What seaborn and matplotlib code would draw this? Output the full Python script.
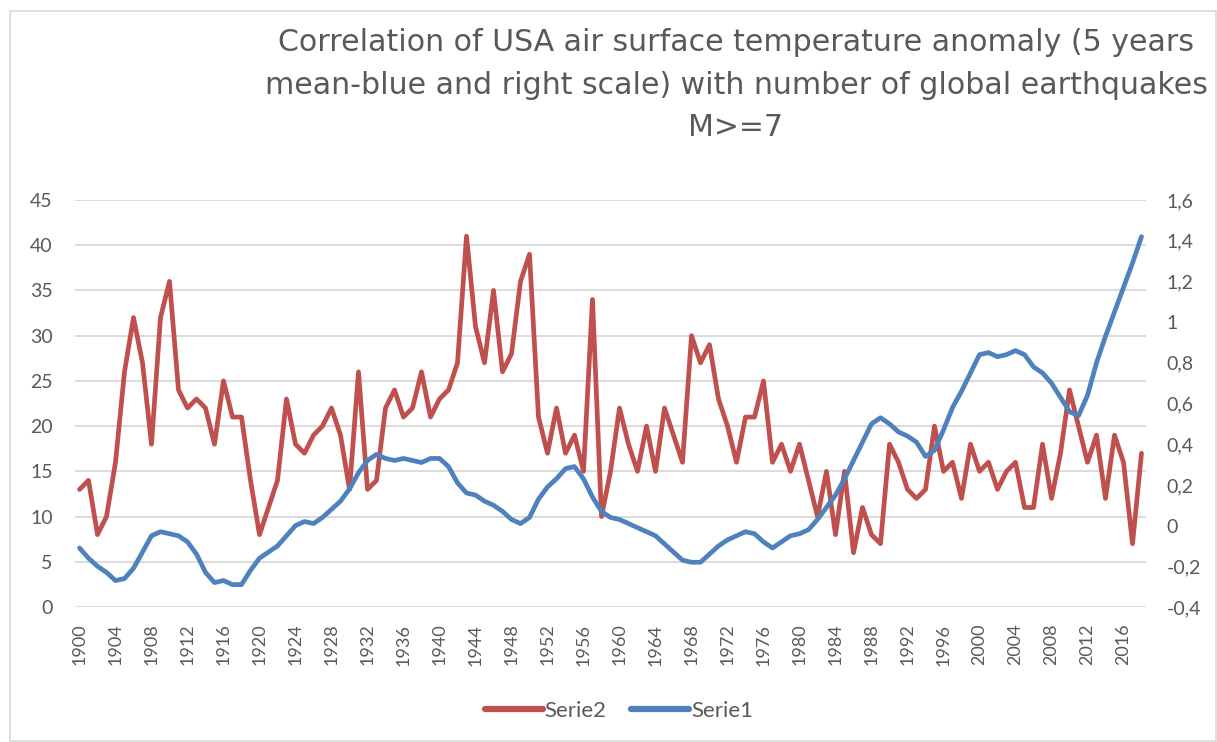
import matplotlib
matplotlib.use("Agg")
import matplotlib.pyplot as plt
import seaborn as sns
import pandas as pd
from matplotlib.patches import Rectangle
from matplotlib.lines import Line2D
from matplotlib.ticker import FuncFormatter

# ---------------- data ----------------
years = list(range(1900, 2019))

serie2 = [13, 14, 8, 10, 16, 26, 32, 27, 18, 32,
          36, 24, 22, 23, 22, 18, 25, 21, 21, 14,
          8, 11, 14, 23, 18, 17, 19, 20, 22, 19,
          13, 26, 13, 14, 22, 24, 21, 22, 26, 21,
          23, 24, 27, 41, 31, 27, 35, 26, 28, 36,
          39, 21, 17, 22, 17, 19, 15, 34, 10, 15,
          22, 18, 15, 20, 15, 22, 19, 16, 30, 27,
          29, 23, 20, 16, 21, 21, 25, 16, 18, 15,
          18, 14, 10, 15, 8, 15, 6, 11, 8, 7,
          18, 16, 13, 12, 13, 20, 15, 16, 12, 18,
          15, 16, 13, 15, 16, 11, 11, 18, 12, 17,
          24, 20, 16, 19, 12, 19, 16, 7, 17]

serie1 = [-0.11, -0.16, -0.20, -0.23, -0.27, -0.26, -0.21, -0.13, -0.05, -0.03,
          -0.04, -0.05, -0.08, -0.14, -0.23, -0.28, -0.27, -0.29, -0.29, -0.22,
          -0.16, -0.13, -0.10, -0.05, 0.00, 0.02, 0.01, 0.04, 0.08, 0.12,
          0.18, 0.26, 0.32, 0.35, 0.33, 0.32, 0.33, 0.32, 0.31, 0.33,
          0.33, 0.29, 0.21, 0.16, 0.15, 0.12, 0.10, 0.07, 0.03, 0.01,
          0.04, 0.13, 0.19, 0.23, 0.28, 0.29, 0.23, 0.14, 0.07, 0.04,
          0.03, 0.01, -0.01, -0.03, -0.05, -0.09, -0.13, -0.17, -0.18, -0.18,
          -0.14, -0.10, -0.07, -0.05, -0.03, -0.04, -0.08, -0.11, -0.08, -0.05,
          -0.04, -0.02, 0.03, 0.09, 0.15, 0.23, 0.32, 0.41, 0.50, 0.53,
          0.50, 0.46, 0.44, 0.41, 0.34, 0.37, 0.47, 0.58, 0.66, 0.75,
          0.84, 0.85, 0.83, 0.84, 0.86, 0.84, 0.78, 0.75, 0.70, 0.63,
          0.56, 0.54, 0.64, 0.80, 0.93, 1.05, 1.17, 1.29, 1.42]

left_ticks = [0, 5, 10, 15, 20, 25, 30, 35, 40, 45]
right_ticks = [-0.4, -0.2, 0.0, 0.2, 0.4, 0.6, 0.8, 1.0, 1.2, 1.4, 1.6]
year_ticks = list(range(1900, 2017, 4))
series_names = ["Serie2", "Serie1"]
title = ("Correlation of USA air surface temperature anomaly (5 years\n"
         "mean-blue and right scale) with number of global earthquakes\n"
         "M>=7")

# ---------------- style ----------------
sns.set_theme(style="white")
plt.rcParams['font.family'] = ['Lato', 'DejaVu Sans']

RED = "#C0504D"
BLUE = "#4F81BD"
TXT = "#595959"
GRID = "#d9d9d9"

W, H = 1217, 742
fig = plt.figure(figsize=(W / 100, H / 100), dpi=100)
fig.patch.set_facecolor("white")

x0, x1, y0, y1 = 75, 1146, 200, 607
ax = fig.add_axes([x0 / W, 1 - y1 / H, (x1 - x0) / W, (y1 - y0) / H])

df = pd.DataFrame({"Year": years, series_names[0]: serie2, series_names[1]: serie1})

sns.lineplot(data=df, x="Year", y=series_names[0], ax=ax, color=RED, lw=3.4,
             legend=False, solid_joinstyle="round", solid_capstyle="round")
ax2 = ax.twinx()
sns.lineplot(data=df, x="Year", y=series_names[1], ax=ax2, color=BLUE, lw=3.4,
             legend=False, solid_joinstyle="round", solid_capstyle="round")

ax.set_xlim(1899.5, 2018.5)
ax.set_ylim(0, 45)
ax2.set_ylim(-0.4, 1.6)
ax.set_yticks(left_ticks)
ax2.set_yticks(right_ticks)
ax.set_xticks(year_ticks)
ax.set_xticklabels([str(y) for y in year_ticks], rotation=90)

def comma_fmt(v, pos):
    if abs(v) < 1e-9:
        return "0"
    s = f"{v:.1f}"
    if s.endswith(".0"):
        s = s[:-2]
    return s.replace(".", ",")

ax2.yaxis.set_major_formatter(FuncFormatter(comma_fmt))

ax.yaxis.grid(True, color=GRID, lw=1.3)
ax.xaxis.grid(False)
ax2.grid(False)
for a in (ax, ax2):
    for sp in a.spines.values():
        sp.set_visible(False)
    a.set_xlabel("")
    a.set_ylabel("")
ax.set_facecolor("none")
ax2.set_facecolor("none")

ax.tick_params(axis="y", length=0, pad=16, labelsize=14, labelcolor=TXT)
ax2.tick_params(axis="y", length=0, pad=15, labelsize=14, labelcolor=TXT)
ax.tick_params(axis="x", length=0, pad=12, labelsize=13, labelcolor=TXT)

# title
fig.text(736 / W, 1 - 85 / H, title, ha="center", va="center", fontsize=21.6,
         color=TXT, linespacing=1.57, family=["DejaVu Sans"])

# legend
handles = [Line2D([0], [0], color=RED, lw=4.5, solid_capstyle="round"),
           Line2D([0], [0], color=BLUE, lw=4.5, solid_capstyle="round")]
fig.legend(handles, series_names, loc="center", bbox_to_anchor=(619 / W, 1 - 711 / H),
           ncol=2, frameon=False, fontsize=16, handlelength=2.6, handletextpad=0.1,
           columnspacing=1.1, labelcolor=TXT)

# chart border
fig.add_artist(Rectangle((10 / W, 1 / H), (W - 11) / W, (H - 12) / H,
                         transform=fig.transFigure, fill=False,
                         edgecolor=GRID, lw=1.2))

fig.savefig("out.png", dpi=100)
